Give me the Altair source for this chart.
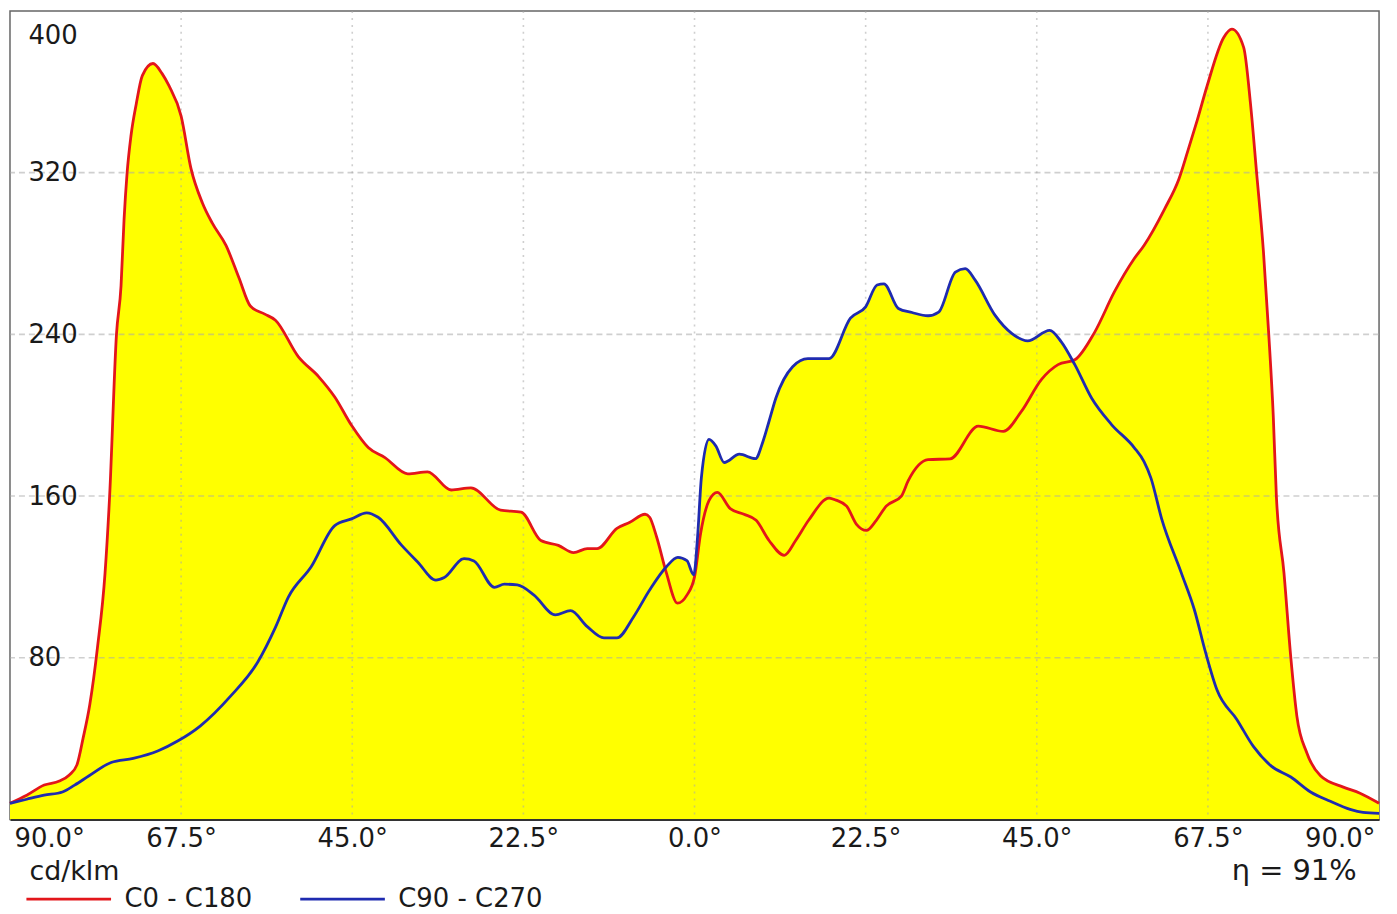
import altair as alt
import pandas as pd

# ---- data (angle in degrees, intensity in cd/klm) ----
c0_deg = [-90, -87.8, -85.5, -83.5, -82.2, -81.2, -80.4, -79.5, -78.5, -77.5, -76.9, -76.0,
          -75.4, -75.0, -74.6, -74.1, -73.4, -72.6, -71.2, -70.0, -69.1, -67.5, -66.2, -64.7,
          -63.4, -61.6, -59.9, -58.4, -56.5, -55.1, -52.1, -49.4, -47.3, -45.1, -42.9, -40.7,
          -37.7, -35.1, -32.0, -29.4, -25.5, -22.8, -20.2, -17.9, -15.9, -14.1, -12.8, -10.2,
          -8.5, -6.5, -5.9, -5.0, -3.7, -2.25, -1.0, 0.0, 0.8, 1.9, 3.0, 4.7, 6.5, 8.1, 9.8,
          11.8, 13.3, 15.0, 17.7, 18.6, 20.0, 21.3, 22.6, 23.9, 25.2, 27.2, 28.1, 30.7, 33.6,
          37.3, 40.6, 43.0, 45.6, 47.8, 50.0, 52.6, 55.2, 57.8, 59.1, 61.8, 63.7, 64.8, 66.1,
          67.4, 69.6, 70.65, 72.2, 73.1, 73.9, 74.8, 75.5, 76.1, 76.5, 77.5, 78.4, 79.2, 80.5,
          82.3, 85.3, 87.5, 90]
c0_val = [8, 12, 17, 19, 22, 27, 40, 57, 85, 122, 160, 240,
          264, 297, 320, 338, 354, 368, 374, 369, 363, 348, 322, 305,
          295, 284, 268, 254, 250, 247, 229, 219, 209, 195, 184, 179,
          171, 172, 163, 164, 153, 152, 138, 135.6, 132, 134, 134, 144,
          147, 151, 149.5, 140, 122, 107, 111, 120, 141.5, 157.7, 161.8, 153.8, 151, 148, 138,
          130.7, 138, 148, 159, 158, 155, 146, 143, 148, 155, 160, 167.6, 178, 178.4,
          194.6, 192, 202, 217.6, 225, 227.4, 241, 261, 277.4, 284, 302, 317, 330, 346,
          363, 387, 391, 382, 354, 320, 281, 240, 199, 160, 122, 80, 51, 33,
          21.6, 16, 13, 8]

c90_deg = [-90, -87.8, -85.5, -83.1, -81.5, -79.6, -76.7, -73.8, -70.5, -67.9, -65.0, -61.0,
           -57.4, -55.1, -53.4, -50.4, -47.3, -45.1, -43.1, -41.6, -38.5, -36.4, -34.0, -32.9,
           -30.3, -29.0, -26.3, -25.0, -23.3, -21.1, -18.3, -16.3, -14.1, -11.9, -10.2, -8.0,
           -5.9, -3.7, -2.2, -1.0, -0.1, 0.4, 0.9, 1.9, 2.8, 3.9, 5.9, 8.0, 9.0, 9.8, 10.7,
           12.9, 14.9, 17.7, 20.5, 22.5, 24.0, 24.9, 26.8, 28.6, 30.7, 32.1, 34.3, 35.6, 36.9,
           39.5, 41.7, 43.8, 46.7, 48.2, 50.0, 52.2, 54.8, 57.8, 59.1, 60.0, 61.4, 64.0, 65.7,
           67.2, 68.7, 71.3, 73.5, 75.8, 78.4, 81.0, 83.6, 86.2, 87.9, 90]
c90_val = [8, 10, 12, 13.6, 17, 21.6, 28.2, 30.2, 34, 38.9, 46.2, 61,
           78, 95, 110, 125, 145.4, 148.7, 151.7, 149.5, 135.6, 127.4, 118.4, 119.7,
           129, 127.9, 114.8, 116.4, 116, 111, 101.2, 103.3, 95.4, 89.8, 89.8, 100.3,
           113.5, 125, 129.7, 128, 121, 139.7, 169, 188, 184.8, 176.6, 180.7, 178.5, 187, 197, 208.5,
           224, 228, 228, 248, 253.6, 264.4, 265, 252.8, 250.8, 249.2, 251, 270.8, 272.5, 266.8,
           249.5, 240.5, 236.8, 242, 236.4, 225, 208.5, 195.5, 184, 177, 169, 149, 122, 104,
           82.5, 64, 49.5, 36, 26.5, 21, 13.6, 9, 5, 3.5, 3]

series_names = ["C0 - C180", "C90 - C270"]
series_colors = ["#e3161b", "#1f2bb0"]
x_ticks = [-90, -67.5, -45, -22.5, 0, 22.5, 45, 67.5, 90]
x_grid = [-67.5, -45, -22.5, 0, 22.5, 45, 67.5]
y_ticks = [80, 160, 240, 320, 400]
y_grid = [80, 160, 240, 320]
unit_label = "cd/klm"
eff_label = "η = 91%"

df = pd.concat([
    pd.DataFrame({"deg": c0_deg, "val": c0_val, "series": series_names[0]}),
    pd.DataFrame({"deg": c90_deg, "val": c90_val, "series": series_names[1]}),
], ignore_index=True)

FONT = "DejaVu Sans"
TXT = "#1a1a1a"

x_scale = alt.Scale(domain=[-90, 90], nice=False, zero=False)
y_scale = alt.Scale(domain=[0, 400], nice=False)

x_axis = alt.Axis(values=x_ticks, labelExpr="format(abs(datum.value), '.1f') + '°'",
                  labelFlush=True, labelFlushOffset=-4, ticks=False, tickSize=0,
                  labelPadding=6, labelFontSize=26, labelColor=TXT, labelFont=FONT,
                  domainColor="#333333", domainWidth=2, grid=False,
                  title=eff_label, titleX=1352, titleY=51, titleAlign="right",
                  titleBaseline="middle", titleFontSize=29, titleFontWeight="normal",
                  titleColor=TXT, titleFont=FONT, zindex=1)
y_axis = alt.Axis(values=y_ticks, format="d", labelAlign="left", labelPadding=-18,
                  ticks=False, tickSize=0, domain=False, grid=False,
                  labelFontSize=26, labelColor=TXT, labelFont=FONT,
                  labelFlush=True, labelFlushOffset=-12,
                  title=unit_label, titleAngle=0, titleX=19, titleY=864,
                  titleAlign="left", titleBaseline="middle", titleFontSize=27,
                  titleFontWeight="normal", titleColor=TXT, titleFont=FONT, zindex=1)

base = alt.Chart(df)

area = base.mark_area(color="#ffff00", opacity=1, interpolate="monotone").encode(
    x=alt.X("deg:Q", scale=x_scale, axis=x_axis),
    y=alt.Y("val:Q", scale=y_scale, axis=y_axis, stack=None),
    detail="series:N",
)

grid_v = alt.Chart(pd.DataFrame({"g": x_grid})).mark_rule(
    color="#a8a8a8", opacity=0.55, strokeWidth=1.6, strokeDash=[2, 5]
).encode(x=alt.X("g:Q", scale=x_scale, axis=x_axis))

grid_h = alt.Chart(pd.DataFrame({"g": y_grid})).mark_rule(
    color="#a8a8a8", opacity=0.55, strokeWidth=1.6, strokeDash=[6, 4]
).encode(y=alt.Y("g:Q", scale=y_scale, axis=y_axis))

lines = base.mark_line(strokeWidth=2.8, interpolate="monotone").encode(
    x=alt.X("deg:Q", scale=x_scale, axis=x_axis),
    y=alt.Y("val:Q", scale=y_scale, axis=y_axis, stack=None),
    color=alt.Color("series:N",
                    scale=alt.Scale(domain=series_names, range=series_colors),
                    legend=alt.Legend(orient="none", legendX=15, legendY=848,
                                      direction="horizontal", title=None,
                                      symbolType="stroke", symbolSize=7225,
                                      symbolStrokeWidth=2.8, labelFontSize=26,
                                      labelFont=FONT, labelColor=TXT, labelOffset=12,
                                      columnPadding=41, padding=0, labelLimit=300)),
)

chart = alt.layer(area, grid_v, grid_h, lines).properties(
    width=1375, height=812,
    autosize=alt.AutoSizeParams(type="none"),
    padding={"left": 2, "top": 1, "right": 10, "bottom": 93},
    background="white",
).configure(font=FONT).configure_view(stroke="#666666", strokeWidth=1.5)

chart.save("out.html", embed_options={"renderer": "svg", "actions": False})
